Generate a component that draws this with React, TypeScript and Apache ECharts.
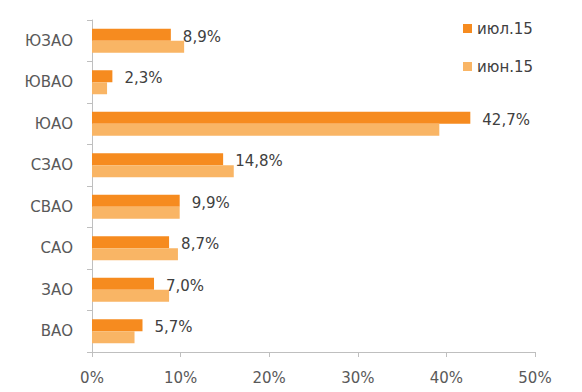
import React, { useEffect, useRef } from "react";
import * as echarts from "echarts";

const categories = ["ВАО", "ЗАО", "САО", "СВАО", "СЗАО", "ЮАО", "ЮВАО", "ЮЗАО"];
const july = [5.7, 7.0, 8.7, 9.9, 14.8, 42.7, 2.3, 8.9];
const june = [4.8, 8.7, 9.7, 9.9, 16.0, 39.2, 1.7, 10.4];
const seriesNames = ["июл.15", "июн.15"];
const xTicks = [0, 10, 20, 30, 40, 50];

const FONT = "DejaVu Sans";

export default function App() {
  const ref = useRef<HTMLDivElement>(null);
  useEffect(() => {
    if (!ref.current) return;
    const chart = echarts.init(ref.current, undefined, { renderer: "svg" });
    chart.setOption({
      animation: false,
      textStyle: { fontFamily: FONT },
      grid: { left: 92, right: 47, top: 20, bottom: 40, containLabel: false },
      legend: {
        orient: "vertical",
        left: 458,
        top: 15,
        icon: "rect",
        itemWidth: 9,
        itemHeight: 9,
        itemGap: 21,
        itemStyle: { borderWidth: 0 },
        textStyle: { fontFamily: FONT, fontSize: 15, color: "#404040", lineHeight: 17 },
        data: seriesNames,
      },
      xAxis: {
        type: "value",
        min: xTicks[0],
        max: xTicks[xTicks.length - 1],
        interval: 10,
        splitLine: { show: false },
        axisLine: { show: true, lineStyle: { color: "#BFBFBF", width: 1 } },
        axisTick: { show: true, length: 5, lineStyle: { color: "#BFBFBF" } },
        axisLabel: {
          formatter: (v: number) => `${v}%`,
          fontFamily: FONT,
          fontSize: 15,
          color: "#595959",
          margin: 18,
        },
      },
      yAxis: {
        type: "category",
        data: categories,
        axisLine: { show: true, lineStyle: { color: "#BFBFBF", width: 1 } },
        axisTick: { show: true, length: 5, lineStyle: { color: "#BFBFBF" } },
        axisLabel: { fontFamily: FONT, fontSize: 15, color: "#595959", margin: 19 },
      },
      series: [
        {
          name: seriesNames[0],
          type: "bar",
          data: july,
          barWidth: 12,
          barGap: "0%",
          itemStyle: { color: "#F68B1F" },
          label: {
            show: true,
            position: "right",
            distance: 12,
            offset: [0, 2],
            fontFamily: FONT,
            fontSize: 15,
            color: "#404040",
            formatter: (p: any) => `${p.value.toFixed(1).replace(".", ",")}%`,
          },
        },
        {
          name: seriesNames[1],
          type: "bar",
          data: june,
          barWidth: 12,
          barGap: "0%",
          itemStyle: { color: "#F9B565" },
        },
      ],
    });
    return () => chart.dispose();
  }, []);
  return <div ref={ref} style={{ width: 582, height: 392, position: "absolute", left: 0, top: 0 }} />;
}
